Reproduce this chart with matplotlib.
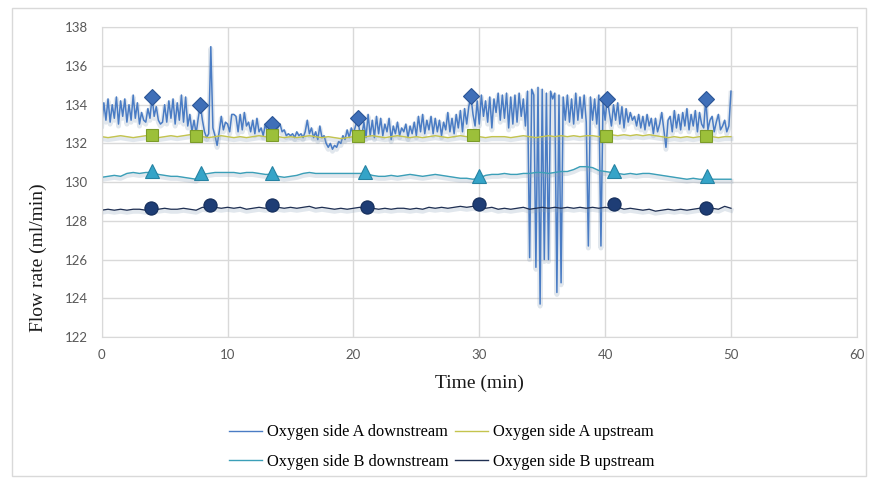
import matplotlib
matplotlib.use('Agg')
import matplotlib.pyplot as plt
import matplotlib.patheffects as pe
from matplotlib.patches import Rectangle
import numpy as np

# Oxygen side A downstream, 6 samples per minute (one row per minute)
a_down = [
    133.0, 134.1, 133.2, 134.3, 133.1, 134.0,
    133.3, 134.4, 133.0, 134.2, 133.4, 134.3,
    133.1, 134.0, 133.2, 134.5, 133.3, 134.1,
    133.0, 133.6, 133.2, 133.1, 133.8, 133.3,
    134.4, 133.4, 133.9, 133.2, 133.0, 133.1,
    134.0, 133.1, 134.2, 133.3, 134.3, 133.0,
    134.1, 133.2, 134.5, 133.1, 134.4, 132.9,
    133.5, 132.6, 133.2, 132.5, 133.3, 134.0,
    133.2, 132.6, 132.3, 132.5, 137.0, 132.8,
    132.4, 131.9, 132.6, 133.4, 132.7, 133.1,
    133.0, 132.6, 133.5, 133.5, 133.4, 132.6,
    133.5, 132.7, 133.6, 132.9, 133.1, 132.6,
    133.2, 132.5, 133.3, 132.6, 132.8, 132.4,
    133.0, 132.6, 132.8, 133.0, 132.9, 132.7,
    132.8, 133.0, 132.6, 132.7, 132.4, 132.5,
    132.4, 132.5, 132.3, 132.6, 132.4, 132.5,
    132.3, 132.6, 133.2, 132.5, 132.8, 132.3,
    132.6, 132.2, 132.9, 132.3, 132.4, 132.0,
    131.8, 132.0, 131.7, 131.9, 131.8, 132.1,
    132.0, 132.4, 132.2, 132.7, 132.3, 132.8,
    132.5, 132.9, 133.3, 132.6, 132.4, 133.1,
    132.3, 133.5, 132.4, 133.2, 132.3, 133.4,
    132.5, 133.3, 132.4, 133.0, 132.6, 133.3,
    132.2, 132.9, 132.5, 133.1, 132.4, 132.8,
    132.6, 133.0, 132.3, 132.9, 132.5, 133.1,
    132.4, 133.4, 132.6, 133.5, 132.5, 133.2,
    132.7, 133.4, 132.5, 133.3, 132.6, 133.2,
    132.4, 133.1, 132.7, 133.6, 132.6, 133.3,
    132.5, 133.5, 132.8, 133.7, 132.6, 133.8,
    133.0, 133.9, 134.45, 133.5, 132.9, 134.2,
    133.0, 134.5, 133.4, 134.2, 133.1, 134.4,
    132.8, 134.3, 133.6, 134.6, 133.2, 134.5,
    133.3, 134.6, 132.8, 134.4, 133.0, 134.5,
    133.1, 134.6, 133.4, 134.3, 132.9, 134.7,
    126.1, 134.8, 134.5, 125.6, 134.9, 123.7,
    134.8, 126.0, 134.6, 126.0, 134.7, 134.3,
    134.6, 124.3, 134.5, 124.8, 134.4, 133.2,
    134.5, 133.1, 134.3, 133.0, 134.6, 133.2,
    134.4, 133.3, 134.5, 133.1, 126.7, 134.4,
    133.2, 134.3, 133.0, 134.5, 126.7, 134.2,
    133.2, 134.3, 133.6, 132.9, 134.0, 133.2,
    134.1, 133.0, 133.9, 132.8, 133.8, 133.1,
    133.6, 133.2, 133.4, 132.9, 133.5, 132.8,
    133.4, 132.7, 133.5, 132.9, 133.3, 132.5,
    133.3, 132.6, 133.0, 133.6, 132.7, 131.8,
    133.2, 133.4, 132.6, 133.7, 132.8, 133.5,
    132.7, 133.6, 132.9, 133.8, 132.7, 133.5,
    132.9, 133.7, 132.6, 133.6, 133.0, 132.8,
    134.3, 132.7, 133.2, 133.4, 132.6, 133.1,
    133.5, 132.7, 132.9, 133.2, 132.6, 132.9,
    134.7,
]
t_fine = np.linspace(0, 50, len(a_down))

# the other three series, 2 samples per minute (one row per 5 minutes)
a_up = [
    132.35, 132.3, 132.35, 132.4, 132.35, 132.3, 132.35, 132.4, 132.35, 132.3,
    132.35, 132.4, 132.35, 132.4, 132.45, 132.4, 132.35, 132.3, 132.35, 132.4,
    132.35, 132.3, 132.35, 132.3, 132.35, 132.4, 132.35, 132.3, 132.35, 132.3,
    132.35, 132.3, 132.35, 132.4, 132.35, 132.3, 132.35, 132.3, 132.25, 132.3,
    132.35, 132.3, 132.35, 132.4, 132.35, 132.3, 132.35, 132.4, 132.35, 132.3,
    132.35, 132.3, 132.35, 132.4, 132.35, 132.3, 132.35, 132.4, 132.35, 132.35,
    132.35, 132.3, 132.35, 132.35, 132.35, 132.3, 132.35, 132.4, 132.35, 132.3,
    132.35, 132.4, 132.35, 132.4, 132.35, 132.4, 132.35, 132.4, 132.4, 132.35,
    132.4, 132.45, 132.4, 132.45, 132.4, 132.45, 132.4, 132.45, 132.4, 132.35,
    132.3, 132.35, 132.3, 132.35, 132.3, 132.35, 132.3, 132.35, 132.3, 132.35,
    132.35,
]
b_down = [
    130.25, 130.3, 130.35, 130.3, 130.45, 130.5, 130.45, 130.5, 130.5, 130.4,
    130.35, 130.3, 130.3, 130.25, 130.2, 130.15, 130.4, 130.45, 130.5, 130.5,
    130.5, 130.5, 130.45, 130.5, 130.5, 130.45, 130.4, 130.4, 130.3, 130.25,
    130.3, 130.35, 130.45, 130.5, 130.45, 130.45, 130.45, 130.45, 130.45, 130.45,
    130.45, 130.45, 130.45, 130.35, 130.3, 130.3, 130.35, 130.3, 130.35, 130.4,
    130.35, 130.3, 130.35, 130.4, 130.35, 130.3, 130.25, 130.2, 130.2, 130.15,
    130.2, 130.35, 130.4, 130.4, 130.45, 130.4, 130.4, 130.45, 130.45, 130.5,
    130.5, 130.45, 130.5, 130.55, 130.55, 130.65, 130.8, 130.8, 130.75, 130.6,
    130.55, 130.5, 130.45, 130.4, 130.45, 130.4, 130.45, 130.45, 130.4, 130.35,
    130.3, 130.25, 130.2, 130.15, 130.2, 130.15, 130.15, 130.15, 130.15, 130.15,
    130.15,
]
b_up = [
    128.55, 128.6, 128.55, 128.6, 128.55, 128.6, 128.6, 128.55, 128.65, 128.6,
    128.65, 128.6, 128.6, 128.65, 128.6, 128.55, 128.7, 128.65, 128.7, 128.65,
    128.7, 128.65, 128.7, 128.6, 128.65, 128.7, 128.65, 128.7, 128.7, 128.65,
    128.7, 128.65, 128.7, 128.75, 128.65, 128.7, 128.65, 128.6, 128.65, 128.6,
    128.65, 128.7, 128.6, 128.65, 128.6, 128.65, 128.6, 128.65, 128.65, 128.6,
    128.65, 128.6, 128.7, 128.65, 128.7, 128.65, 128.7, 128.75, 128.7, 128.75,
    128.7, 128.65, 128.7, 128.6, 128.65, 128.6, 128.65, 128.7, 128.6, 128.65,
    128.7, 128.65, 128.7, 128.65, 128.7, 128.65, 128.7, 128.65, 128.7, 128.65,
    128.7, 128.65, 128.7, 128.6, 128.65, 128.6, 128.55, 128.6, 128.5, 128.55,
    128.6, 128.55, 128.6, 128.55, 128.6, 128.65, 128.7, 128.65, 128.6, 128.75,
    128.65,
]
t_coarse = np.linspace(0, 50, len(a_up))

# marked points of each series
a_down_mx = [4.0, 7.83, 13.5, 20.33, 29.33, 40.17, 48.0]
a_down_my = [134.4, 134.0, 133.0, 133.3, 134.45, 134.3, 134.3]
a_up_mx = [4.0, 7.5, 13.5, 20.4, 29.5, 40.1, 48.0]
a_up_my = [132.45, 132.4, 132.45, 132.4, 132.45, 132.4, 132.4]
b_down_mx = [4.0, 7.9, 13.5, 20.9, 30.0, 40.7, 48.1]
b_down_my = [130.55, 130.45, 130.45, 130.5, 130.3, 130.55, 130.3]
b_up_mx = [3.9, 8.6, 13.5, 21.1, 30.0, 40.7, 48.0]
b_up_my = [128.65, 128.82, 128.82, 128.7, 128.87, 128.87, 128.65]

labels = ['Oxygen side A downstream', 'Oxygen side A upstream',
          'Oxygen side B downstream', 'Oxygen side B upstream']

fig = plt.figure(figsize=(8.77, 4.79), dpi=100)
ax = fig.add_axes([0.116, 0.2965, 0.861, 0.6465])

fig.patches.append(Rectangle((0.0137, 0.006), 0.974, 0.977, transform=fig.transFigure,
                             fill=False, edgecolor='#d9d9d9', linewidth=1))

shadow = [pe.SimpleLineShadow(offset=(0, -1.5), shadow_color='#8aa0b8', alpha=0.25, linewidth=3.5),
          pe.Normal()]

l1, = ax.plot(t_fine, a_down, color='#4a7cc4', linewidth=1.1, label=labels[0], path_effects=shadow)
l2, = ax.plot(t_coarse, a_up, color='#c4c44e', linewidth=1.0, label=labels[1], path_effects=shadow)
l3, = ax.plot(t_coarse, b_down, color='#3b9fb8', linewidth=1.0, label=labels[2], path_effects=shadow)
l4, = ax.plot(t_coarse, b_up, color='#1f2f52', linewidth=0.9, label=labels[3], path_effects=shadow)

ax.plot(a_down_mx, a_down_my, linestyle='none', marker='D', markersize=8,
        markerfacecolor='#3f6fb8', markeredgecolor='#2b5596', markeredgewidth=0.8)
ax.plot(a_up_mx, a_up_my, linestyle='none', marker='s', markersize=9,
        markerfacecolor='#9cc03a', markeredgecolor='#7c9c2a', markeredgewidth=0.8)
ax.plot(b_down_mx, b_down_my, linestyle='none', marker='^', markersize=10,
        markerfacecolor='#35a4c8', markeredgecolor='#2683a3', markeredgewidth=0.8)
ax.plot(b_up_mx, b_up_my, linestyle='none', marker='o', markersize=9.5,
        markerfacecolor='#1e3d75', markeredgecolor='#142d5a', markeredgewidth=0.8)

ax.set_xlim(0, 60)
ax.set_ylim(122, 138)
ax.set_xticks(range(0, 61, 10))
ax.set_yticks(range(122, 139, 2))
ax.grid(True, color='#d9d9d9', linewidth=1)
ax.set_axisbelow(True)
for s in ax.spines.values():
    s.set_color('#d9d9d9')
ax.tick_params(length=0, labelsize=9.5, labelcolor='#595959')
ax.tick_params(axis='y', pad=10)
ax.tick_params(axis='x', pad=9)
for lab in ax.get_xticklabels() + ax.get_yticklabels():
    lab.set_fontfamily('Lato')

ax.set_xlabel('Time (min)', family='Liberation Serif', fontsize=14, color='#1a1a1a')
ax.xaxis.set_label_coords(0.5, -0.1485)
ax.xaxis.label.set_va('center')
ax.set_ylabel('Flow rate (ml/min)', family='Liberation Serif', fontsize=14, color='#1a1a1a')
ax.yaxis.set_label_coords(-0.0843, 0.255)
ax.yaxis.label.set_va('center')

# legend fills column by column, so order the handles to read row-wise
order = [0, 2, 1, 3]
handles = [l1, l2, l3, l4]
leg = fig.legend(handles=[handles[i] for i in order], labels=[labels[i] for i in order],
                 ncol=2, loc='center',
                 bbox_to_anchor=(0.504, 0.0668), bbox_transform=fig.transFigure,
                 frameon=False, handlelength=2.0, handletextpad=0.3, columnspacing=0.4,
                 labelspacing=0.8, prop={'family': 'Liberation Serif', 'size': 11.8})
for h in leg.get_lines():
    h.set_path_effects([])
    h.set_linewidth(1.0)

fig.savefig('out.png', dpi=100)
